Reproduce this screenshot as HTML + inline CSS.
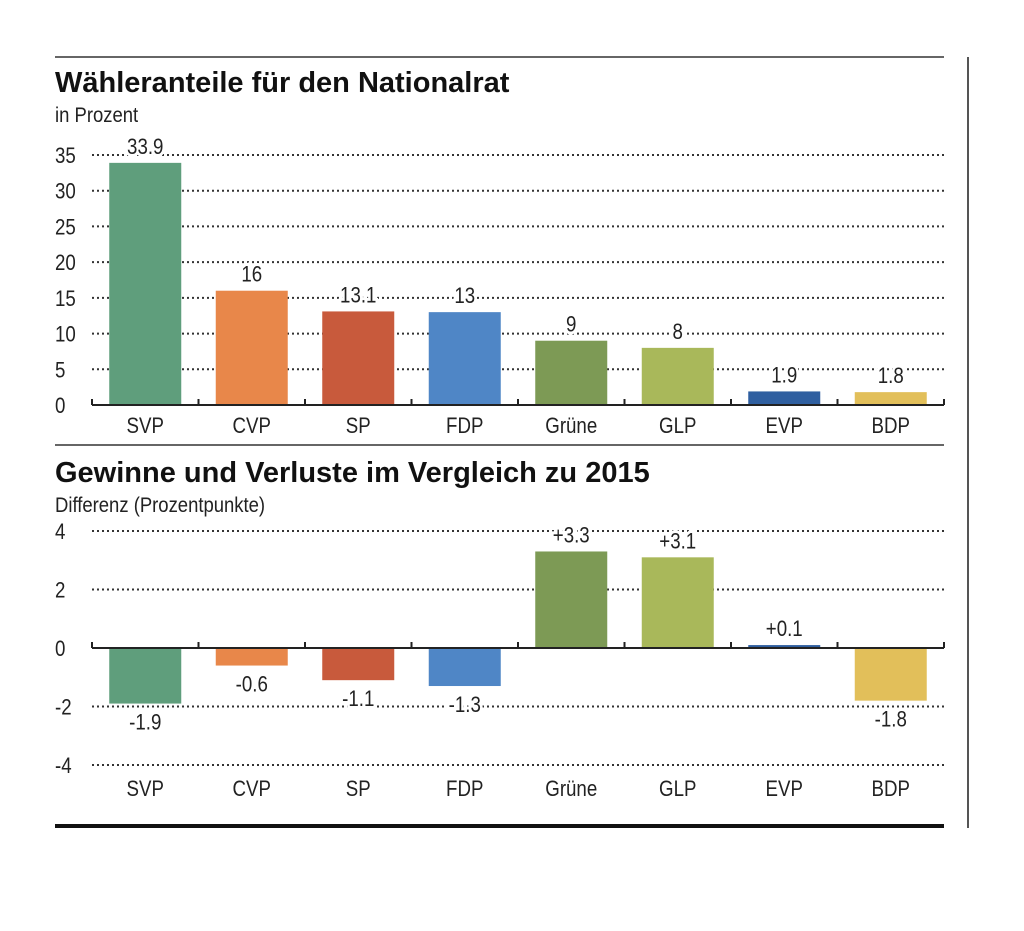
<!DOCTYPE html>
<html><head><meta charset="utf-8"><style>
body{margin:0;background:#fff;}
svg text{font-family:"Liberation Sans Narrow","Liberation Sans",sans-serif;fill:#222;}
.t{font-family:"Liberation Sans",sans-serif;font-weight:bold;font-size:29px;fill:#111;}
</style></head><body>
<svg id="c" width="1024" height="926" xmlns="http://www.w3.org/2000/svg">
<line x1="55" y1="57" x2="944" y2="57" stroke="#666" stroke-width="2"/>
<line x1="968" y1="57" x2="968" y2="828" stroke="#555" stroke-width="2"/>
<text class="t" x="55" y="92">Wähleranteile für den Nationalrat</text>
<text transform="translate(55,122) scale(0.88,1)" font-size="21">in Prozent</text>
<line x1="55" y1="445" x2="944" y2="445" stroke="#666" stroke-width="2"/>
<text class="t" x="55" y="482">Gewinne und Verluste im Vergleich zu 2015</text>
<text transform="translate(55,512) scale(0.88,1)" font-size="21">Differenz (Prozentpunkte)</text>
<line x1="55" y1="826" x2="944" y2="826" stroke="#111" stroke-width="4"/>
<g id="g1"></g><g id="g2"></g>
</svg>
<script>
const categories=["SVP","CVP","SP","FDP","Grüne","GLP","EVP","BDP"];
const shares=[33.9,16,13.1,13,9,8,1.9,1.8];
const shareLabels=["33.9","16","13.1","13","9","8","1.9","1.8"];
const changes=[-1.9,-0.6,-1.1,-1.3,3.3,3.1,0.1,-1.8];
const changeLabels=["-1.9","-0.6","-1.1","-1.3","+3.3","+3.1","+0.1","-1.8"];
const ticks1=[0,5,10,15,20,25,30,35];
const ticks2=[-4,-2,0,2,4];
const colors=["#5f9e7c","#e8874a","#c85a3c","#4f86c6","#7d9a55","#a9b85a","#2f5fa0","#e2bf5a"];
const NS="http://www.w3.org/2000/svg";
const x0=92,x1=944,band=(x1-x0)/categories.length,bw=72;
const xc=i=>x0+band*(i+0.5);
const y1=v=>405-v*(250/35);
const y2=v=>648-v*(117/4);
function mk(g,tag,attrs,txt){const e=document.createElementNS(NS,tag);for(const k in attrs)e.setAttribute(k,attrs[k]);if(txt!==undefined)e.textContent=txt;g.appendChild(e);return e;}
function txt(g,x,y,s,anchor,halo){
  const a={transform:'translate('+x+','+y+') scale(0.85,1)','font-size':22,'text-anchor':anchor};
  if(halo){a.stroke='#fff';a['stroke-width']=6;a['paint-order']='stroke';}
  return mk(g,'text',a,s);
}
function chart(g,ticks,ys,vals,labels,axisY,catY,prefix){
  ticks.forEach(t=>{
    if(t!==0){const l=mk(g,'line',{x1:x0,x2:x1,y1:ys(t),y2:ys(t),stroke:'#333','stroke-width':2,'stroke-dasharray':'2 3'});
    
    }
    const tx=txt(g,55,ys(t)+8,String(t),'start',false);
    
    
  });
  vals.forEach((v,i)=>{
    const top=Math.min(ys(v),ys(0)),h=Math.abs(ys(v)-ys(0));
    const r=mk(g,'rect',{x:xc(i)-bw/2,y:top,width:bw,height:Math.max(h,2),fill:colors[i]});
    
    
  });
  vals.forEach((v,i)=>{
    const ly=v>=0?ys(v)-9:ys(v)+26;
    const t=txt(g,xc(i),ly,labels[i],'middle',true);
    
    
    const c=txt(g,xc(i),catY,categories[i],'middle',false);
    
    
  });
  const a=mk(g,'line',{x1:x0,x2:x1,y1:axisY,y2:axisY,stroke:'#222','stroke-width':2});
  
  
  for(let i=0;i<=categories.length;i++){
    const tk=mk(g,'line',{x1:x0+band*i,x2:x0+band*i,y1:axisY-6,y2:axisY,stroke:'#222','stroke-width':2});
    
    
  }
}
chart(document.getElementById('g1'),ticks1,y1,shares,shareLabels,y1(0),433,'share-');
chart(document.getElementById('g2'),ticks2,y2,changes,changeLabels,y2(0),796,'change-');
</script>
</body></html>
